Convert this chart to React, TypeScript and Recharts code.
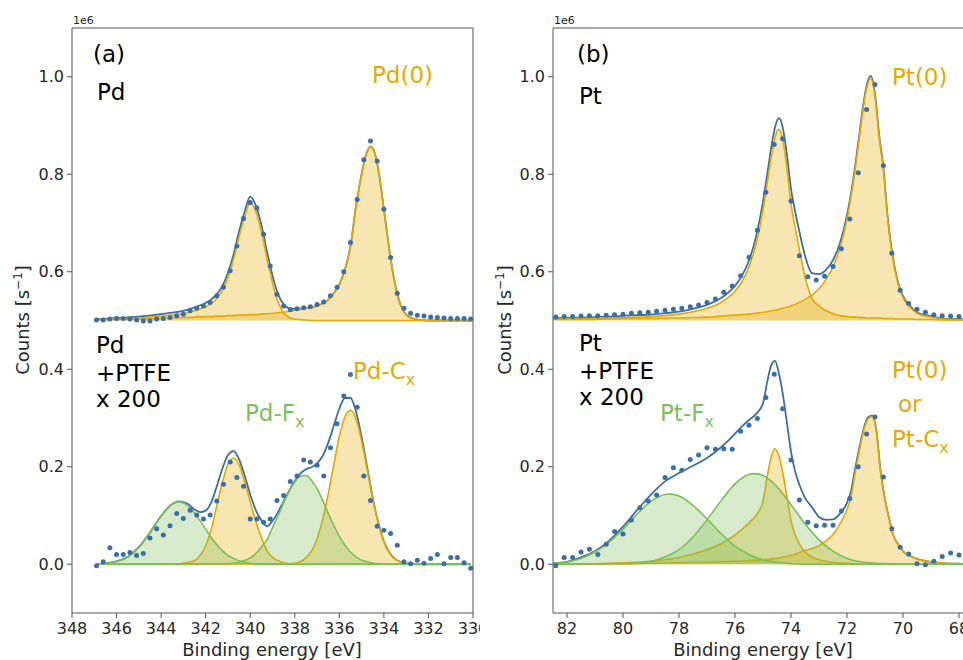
import React from "react";
import { ComposedChart, Area, Line, Scatter, XAxis, YAxis } from "recharts";

const FONT = "DejaVu Sans, Verdana, sans-serif";
const BLUE = "#3a6ea8";
const ORANGE = "#e4a900";
const GREEN = "#7cbd56";
const AXIS = "#555";
const TXT_ORANGE = "#e5aa00";
const TXT_GREEN = "#7dc05a";

// ---------- (a) Pd 3d ----------
const pdDotE = [
  346.9, 346.6, 346.3, 346.0, 345.7, 345.4, 345.1, 344.8, 344.5, 344.2,
  343.9, 343.6, 343.3, 343.0, 342.7, 342.4, 342.1, 341.8, 341.5, 341.2,
  340.9, 340.6, 340.3, 340.0, 339.7, 339.4, 339.1, 338.8, 338.5, 338.2,
  337.9, 337.6, 337.3, 337.0, 336.7, 336.4, 336.1, 335.8, 335.5, 335.2,
  334.9, 334.6, 334.3, 334.0, 333.7, 333.4, 333.1, 332.8, 332.5, 332.2,
  331.9, 331.6, 331.3, 331.0, 330.7, 330.4, 330.1,
];
const pdTopDots = [
  0.501, 0.501, 0.503, 0.504, 0.504, 0.503, 0.501, 0.499, 0.499, 0.503,
  0.504, 0.506, 0.510, 0.513, 0.520, 0.525, 0.530, 0.537, 0.551, 0.568,
  0.602, 0.653, 0.709, 0.742, 0.731, 0.677, 0.612, 0.554, 0.530, 0.522,
  0.524, 0.526, 0.528, 0.533, 0.538, 0.551, 0.568, 0.600, 0.660, 0.748,
  0.830, 0.868, 0.827, 0.728, 0.629, 0.556, 0.525, 0.515, 0.511, 0.509,
  0.507, 0.506, 0.505, 0.504, 0.504, 0.504, 0.503,
];
const pdBotDots = [
  -0.003, 0.005, 0.034, 0.020, 0.020, 0.024, 0.018, 0.022, 0.054, 0.073,
  0.060, 0.079, 0.104, 0.094, 0.111, 0.101, 0.093, 0.101, 0.130, 0.164,
  0.210, 0.178, 0.160, 0.093, 0.093, 0.086, 0.093, 0.131, 0.141, 0.170,
  0.181, 0.214, 0.210, 0.203, 0.181, 0.239, 0.288, 0.345, 0.389, 0.322,
  0.181, 0.131, 0.078, 0.070, 0.063, 0.039, 0.005, 0.001, 0.008, 0.002,
  0.012, 0.020, 0.001, 0.014, 0.014, 0.003, -0.008,
];

// top fit components (baseline 0.5)
const pdTopE = [
  346.9, 346, 345, 344, 343.5, 343, 342.5, 342, 341.75, 341.5,
  341.25, 341, 340.75, 340.5, 340.25, 340, 339.75, 339.5, 339.25, 339,
  338.75, 338.5, 338.25, 338, 337.5, 337, 336.75, 336.5, 336.25, 336,
  335.75, 335.5, 335.25, 335, 334.8, 334.6, 334.4, 334.2, 334, 333.75,
  333.5, 333.25, 333, 332.75, 332.5, 332, 331, 330.1,
];
const pdTopA = [
  0.502, 0.503, 0.505, 0.509, 0.511, 0.514, 0.52, 0.528, 0.535, 0.545,
  0.562, 0.588, 0.625, 0.672, 0.712, 0.742, 0.724, 0.683, 0.628, 0.577,
  0.538, 0.516, 0.506, 0.503, 0.501, 0.5, 0.5, 0.5, 0.5, 0.5,
  0.5, 0.5, 0.5, 0.5, 0.5, 0.5, 0.5, 0.5, 0.5, 0.5,
  0.5, 0.5, 0.5, 0.5, 0.5, 0.5, 0.5, 0.5,
];
const pdTopB = [
  0.501, 0.502, 0.503, 0.504, 0.505, 0.506, 0.507, 0.508, 0.508, 0.509,
  0.509, 0.51, 0.51, 0.511, 0.511, 0.512, 0.512, 0.513, 0.514, 0.515,
  0.516, 0.517, 0.519, 0.521, 0.525, 0.53, 0.535, 0.543, 0.556, 0.574,
  0.604, 0.652, 0.735, 0.8, 0.84, 0.857, 0.842, 0.795, 0.728, 0.643,
  0.575, 0.532, 0.512, 0.505, 0.502, 0.5, 0.5, 0.5,
];
const pdTopFit = [
  0.503, 0.505, 0.508, 0.513, 0.516, 0.52, 0.527, 0.536, 0.543, 0.554,
  0.571, 0.598, 0.635, 0.683, 0.723, 0.754, 0.736, 0.696, 0.642, 0.592,
  0.554, 0.533, 0.525, 0.524, 0.526, 0.53, 0.535, 0.543, 0.556, 0.574,
  0.604, 0.652, 0.735, 0.8, 0.84, 0.857, 0.842, 0.795, 0.728, 0.643,
  0.575, 0.532, 0.512, 0.505, 0.502, 0.5, 0.5, 0.5,
];

// bottom fit components (+PTFE x 200)
const pdG1E = [346.9, 346.5, 346, 345.5, 345, 344.5, 344, 343.6, 343.2, 342.8, 342.5, 342.25, 342, 341.75, 341.5, 341.25, 341, 340.75, 340.5, 340.25, 340, 339.5, 330.1];
const pdG1 = [0, 0.002, 0.006, 0.015, 0.035, 0.065, 0.099, 0.12, 0.128, 0.12, 0.105, 0.089, 0.072, 0.055, 0.04, 0.028, 0.018, 0.012, 0.007, 0.004, 0.002, 0, 0];
const pdO1E = [346.9, 343.6, 343.2, 342.8, 342.5, 342.25, 342, 341.75, 341.5, 341.25, 341, 340.75, 340.5, 340.25, 340, 339.75, 339.5, 339.25, 339, 338.75, 338.5, 338.25, 338, 330.1];
const pdO1 = [0, 0, 0.001, 0.004, 0.007, 0.018, 0.038, 0.072, 0.12, 0.168, 0.205, 0.218, 0.204, 0.17, 0.128, 0.088, 0.055, 0.028, 0.014, 0.007, 0.003, 0.001, 0, 0];
const pdG2E = [346.9, 341, 340.75, 340.5, 340.25, 340, 339.75, 339.5, 339.25, 339, 338.75, 338.5, 338.25, 338, 337.75, 337.5, 337.25, 337, 336.75, 336.5, 336.25, 336, 335.75, 335.5, 335.25, 335, 334.75, 334.5, 334.25, 334, 330.1];
const pdG2 = [0, 0.001, 0.002, 0.004, 0.008, 0.013, 0.022, 0.035, 0.05, 0.075, 0.1, 0.126, 0.15, 0.169, 0.181, 0.182, 0.172, 0.155, 0.131, 0.105, 0.08, 0.057, 0.039, 0.025, 0.015, 0.008, 0.005, 0.002, 0.001, 0, 0];
const pdO2E = [346.9, 338.25, 338, 337.75, 337.5, 337.25, 337, 336.75, 336.5, 336.25, 336, 335.75, 335.5, 335.25, 335, 334.75, 334.5, 334.25, 334, 333.75, 333.5, 333, 332.5, 330.1];
const pdO2 = [0, 0.001, 0.002, 0.005, 0.013, 0.027, 0.052, 0.091, 0.144, 0.204, 0.262, 0.302, 0.316, 0.298, 0.253, 0.194, 0.134, 0.084, 0.047, 0.024, 0.011, 0.002, 0, 0];
const pdBotFitE = [
  346.9, 346.5, 346, 345.5, 345, 344.5, 344, 343.6, 343.2, 342.8,
  342.5, 342.25, 342, 341.75, 341.5, 341.25, 341, 340.75, 340.5, 340.25,
  340, 339.75, 339.5, 339.25, 339, 338.75, 338.5, 338.25, 338, 337.75,
  337.5, 337.25, 337, 336.75, 336.5, 336.25, 336, 335.75, 335.5, 335.25,
  335, 334.75, 334.5, 334.25, 334, 333.75, 333.5, 333, 332.5, 330.1,
];
const pdBotFit = [
  0, 0.002, 0.006, 0.015, 0.035, 0.065, 0.099, 0.12, 0.129, 0.124,
  0.112, 0.107, 0.11, 0.127, 0.16, 0.196, 0.224, 0.232, 0.215, 0.182,
  0.143, 0.111, 0.09, 0.078, 0.089, 0.107, 0.129, 0.151, 0.171, 0.186,
  0.195, 0.199, 0.207, 0.222, 0.249, 0.284, 0.319, 0.341, 0.341, 0.313,
  0.261, 0.199, 0.136, 0.085, 0.047, 0.024, 0.011, 0.002, 0, 0,
];

// ---------- (b) Pt 4f ----------
const ptDotE = [
  82.4, 82.1, 81.8, 81.5, 81.2, 80.9, 80.6, 80.3, 80.0, 79.7,
  79.4, 79.1, 78.8, 78.5, 78.2, 77.9, 77.6, 77.3, 77.0, 76.7,
  76.4, 76.1, 75.8, 75.5, 75.2, 74.9, 74.6, 74.3, 74.0, 73.7,
  73.4, 73.1, 72.8, 72.5, 72.2, 71.9, 71.6, 71.3, 71.0, 70.7,
  70.4, 70.1, 69.8, 69.5, 69.2, 68.9, 68.6, 68.3, 68.0,
];
const ptTopDots = [
  0.507, 0.508, 0.508, 0.509, 0.51, 0.51, 0.511, 0.512, 0.513, 0.515,
  0.516, 0.517, 0.519, 0.521, 0.523, 0.525, 0.528, 0.532, 0.537, 0.544,
  0.558, 0.571, 0.592, 0.63, 0.685, 0.763, 0.861, 0.873, 0.745, 0.633,
  0.59, 0.583, 0.591, 0.611, 0.647, 0.708, 0.803, 0.933, 0.984, 0.818,
  0.638, 0.562, 0.535, 0.523, 0.517, 0.512, 0.51, 0.509, 0.508,
];
const ptBotDots = [
  -0.003, 0.014, 0.014, 0.025, 0.031, 0.02, 0.041, 0.067, 0.062, 0.091,
  0.116, 0.13, 0.142, 0.178, 0.198, 0.193, 0.215, 0.224, 0.239, 0.236,
  0.237, 0.236, 0.273, 0.285, 0.299, 0.342, 0.39, 0.319, 0.214, 0.132,
  0.086, 0.079, 0.08, 0.08, 0.109, 0.135, 0.2, 0.267, 0.302, 0.179,
  0.073, 0.035, 0.021, 0.001, -0.001, 0.006, 0.016, 0.023, 0.019,
];

const ptTopE = [
  82.5, 81.5, 80.5, 79.5, 79, 78.5, 78, 77.5, 77, 76.5,
  76.25, 76, 75.75, 75.5, 75.25, 75, 74.85, 74.7, 74.55, 74.43,
  74.3, 74.15, 74, 73.85, 73.7, 73.5, 73.25, 73, 72.75, 72.5,
  72.25, 72, 71.85, 71.7, 71.55, 71.4, 71.28, 71.15, 71.0, 70.85,
  70.7, 70.55, 70.4, 70.2, 70, 69.75, 69.5, 69, 68.5, 68, 67.5,
];
const ptTopA = [
  0.503, 0.504, 0.505, 0.507, 0.508, 0.51, 0.513, 0.518, 0.525, 0.537,
  0.547, 0.56, 0.58, 0.61, 0.657, 0.727, 0.781, 0.837, 0.88, 0.892,
  0.872, 0.815, 0.74, 0.69, 0.645, 0.59, 0.545, 0.53, 0.52, 0.514,
  0.51, 0.508, 0.507, 0.507, 0.506, 0.506, 0.505, 0.505, 0.505, 0.505,
  0.504, 0.504, 0.504, 0.503, 0.503, 0.503, 0.502, 0.502, 0.501, 0.501, 0.501,
];
const ptTopB = [
  0.502, 0.502, 0.503, 0.504, 0.504, 0.505, 0.505, 0.506, 0.507, 0.509,
  0.51, 0.511, 0.512, 0.513, 0.515, 0.517, 0.518, 0.52, 0.521, 0.523,
  0.525, 0.527, 0.53, 0.533, 0.537, 0.543, 0.552, 0.565, 0.584, 0.61,
  0.649, 0.708, 0.756, 0.814, 0.88, 0.944, 0.981, 0.997, 0.96, 0.875,
  0.81, 0.71, 0.64, 0.58, 0.547, 0.527, 0.515, 0.507, 0.503, 0.502, 0.501,
];
const ptTopFit = [
  0.505, 0.506, 0.508, 0.511, 0.512, 0.515, 0.518, 0.524, 0.532, 0.546,
  0.557, 0.571, 0.592, 0.623, 0.672, 0.744, 0.799, 0.857, 0.901, 0.915,
  0.897, 0.842, 0.77, 0.723, 0.682, 0.633, 0.597, 0.595, 0.604, 0.624,
  0.659, 0.716, 0.763, 0.821, 0.886, 0.95, 0.986, 1.002, 0.965, 0.88,
  0.814, 0.714, 0.644, 0.583, 0.55, 0.53, 0.517, 0.509, 0.504, 0.503, 0.502,
];

const ptG1E = [82.5, 82, 81.5, 81, 80.5, 80, 79.5, 79, 78.5, 78.33, 78, 77.5, 77, 76.5, 76, 75.5, 75, 74.5, 74, 73.5, 67.5];
const ptG1 = [0.002, 0.005, 0.012, 0.025, 0.045, 0.072, 0.103, 0.129, 0.143, 0.144, 0.14, 0.121, 0.093, 0.063, 0.037, 0.02, 0.009, 0.004, 0.001, 0, 0];
const ptG2E = [82.5, 80, 79.5, 79, 78.5, 78, 77.5, 77, 76.5, 76, 75.5, 75.3, 75, 74.5, 74, 73.5, 73, 72.5, 72, 71.5, 71, 70.5, 70, 67.5];
const ptG2 = [0, 0.001, 0.002, 0.006, 0.015, 0.03, 0.056, 0.091, 0.13, 0.165, 0.184, 0.186, 0.182, 0.159, 0.122, 0.083, 0.05, 0.027, 0.012, 0.005, 0.002, 0.001, 0, 0];
const ptO1E = [82.5, 82, 81, 80, 79, 78, 77.5, 77, 76.5, 76, 75.5, 75.25, 75, 74.85, 74.7, 74.57, 74.45, 74.3, 74.15, 74, 73.85, 73.7, 73.5, 73.25, 73, 72.5, 72, 71, 67.5];
const ptO1 = [0, 0, 0.001, 0.003, 0.006, 0.014, 0.021, 0.03, 0.042, 0.06, 0.085, 0.1, 0.13, 0.18, 0.222, 0.237, 0.225, 0.19, 0.14, 0.09, 0.06, 0.042, 0.025, 0.015, 0.009, 0.004, 0.002, 0, 0];
const ptO2E = [82.5, 81, 80, 79, 78, 77, 76, 75, 74.5, 74, 73.5, 73, 72.75, 72.5, 72.25, 72, 71.85, 71.7, 71.55, 71.4, 71.25, 71.1, 70.95, 70.8, 70.65, 70.5, 70.35, 70.2, 70, 69.75, 69.5, 69, 68.5, 68, 67.5];
const ptO2 = [0, 0.001, 0.001, 0.002, 0.003, 0.004, 0.006, 0.009, 0.012, 0.018, 0.028, 0.038, 0.048, 0.061, 0.083, 0.112, 0.14, 0.19, 0.235, 0.275, 0.298, 0.303, 0.272, 0.19, 0.135, 0.095, 0.06, 0.043, 0.027, 0.017, 0.011, 0.005, 0.002, 0.001, 0];
const ptBotFitE = [
  82.5, 82, 81.5, 81, 80.5, 80, 79.5, 79, 78.5, 78,
  77.5, 77, 76.5, 76.25, 76, 75.75, 75.5, 75.25, 75, 74.85,
  74.7, 74.57, 74.45, 74.3, 74.15, 74, 73.85, 73.7, 73.5, 73.25,
  73, 72.75, 72.5, 72.25, 72, 71.85, 71.7, 71.55, 71.4, 71.25,
  71.1, 70.95, 70.8, 70.65, 70.5, 70.35, 70.2, 70, 69.75, 69.5,
  69, 68.5, 68, 67.5,
];
const ptBotFit = [
  0.002, 0.005, 0.014, 0.027, 0.048, 0.077, 0.111, 0.143, 0.17, 0.187,
  0.202, 0.218, 0.24, 0.253, 0.268, 0.283, 0.296, 0.308, 0.33, 0.374,
  0.409, 0.417, 0.396, 0.352, 0.292, 0.231, 0.19, 0.163, 0.136, 0.117,
  0.097, 0.091, 0.092, 0.104, 0.126, 0.152, 0.199, 0.241, 0.279, 0.301,
  0.305, 0.274, 0.191, 0.135, 0.095, 0.06, 0.043, 0.027, 0.017, 0.011,
  0.005, 0.002, 0.001, 0,
];

const pdTicks = [330, 332, 334, 336, 338, 340, 342, 344, 346, 348];
const ptTicks = [68, 70, 72, 74, 76, 78, 80, 82];
const yTicks = [0, 0.2, 0.4, 0.6, 0.8, 1.0];

const zip = (xs: number[], ys: number[]) => xs.map((x, i) => ({ x, y: ys[i] }));

const TICK = { fontSize: 16, fill: "#262626", fontFamily: FONT };

type Peak = { e: number[]; v: number[]; color: string; base: number };

interface PanelProps {
  left: number;
  width: number;
  right: number;
  domain: [number, number];
  ticks: number[];
  dotE: number[];
  topDots: number[];
  botDots: number[];
  topFitE: number[];
  topFit: number[];
  botFitE: number[];
  botFit: number[];
  peaks: Peak[];
}

const dotShape = (props: any) => (
  <circle cx={props.cx} cy={props.cy} r={2.5} fill={BLUE} />
);

function Panel(p: PanelProps) {
  return (
    <div style={{ position: "absolute", left: p.left, top: 0 }}>
      <ComposedChart
        width={p.width}
        height={660}
        margin={{ top: 28, right: p.right, bottom: 0, left: 0 }}
      >
        <XAxis
          type="number"
          dataKey="x"
          domain={p.domain}
          reversed
          allowDataOverflow
          ticks={p.ticks}
          interval={0}
          height={47}
          tickSize={5}
          tickMargin={5}
          tick={TICK}
          stroke={AXIS}
        />
        <YAxis
          type="number"
          domain={[-0.1, 1.1]}
          allowDataOverflow
          ticks={yTicks}
          interval={0}
          width={72}
          tickSize={5}
          tickMargin={3}
          tick={TICK}
          stroke={AXIS}
          tickFormatter={(v: number) => v.toFixed(1)}
        />
        <Line data={zip(p.topFitE, p.topFit)} dataKey="y" type="monotone" stroke={BLUE}
          strokeWidth={1.8} dot={false} activeDot={false} isAnimationActive={false} zIndex={50} />
        <Line data={zip(p.botFitE, p.botFit)} dataKey="y" type="monotone" stroke={BLUE}
          strokeWidth={1.8} dot={false} activeDot={false} isAnimationActive={false} zIndex={50} />
        {p.peaks.map((pk, i) => (
          <Area
            key={i}
            data={zip(pk.e, pk.v)}
            dataKey="y"
            type="monotone"
            baseValue={pk.base}
            stroke={pk.color}
            strokeWidth={1.6}
            fill={pk.color}
            fillOpacity={0.3}
            dot={false}
            activeDot={false}
            isAnimationActive={false}
          />
        ))}
        <Scatter data={zip(p.dotE, p.topDots)} dataKey="y" shape={dotShape} isAnimationActive={false} />
        <Scatter data={zip(p.dotE, p.botDots)} dataKey="y" shape={dotShape} isAnimationActive={false} />
      </ComposedChart>
    </div>
  );
}

export default function App() {
  const big = { fontFamily: FONT, fontSize: 23 };
  return (
    <div style={{ position: "absolute", left: 0, top: 0, width: 963, height: 660, overflow: "hidden", background: "#fff" }}>
      <Panel
        left={0}
        width={480}
        right={7}
        domain={[330, 348]}
        ticks={pdTicks}
        dotE={pdDotE}
        topDots={pdTopDots}
        botDots={pdBotDots}
        topFitE={pdTopE}
        topFit={pdTopFit}
        botFitE={pdBotFitE}
        botFit={pdBotFit}
        peaks={[
          { e: pdTopE, v: pdTopA, color: ORANGE, base: 0.5 },
          { e: pdTopE, v: pdTopB, color: ORANGE, base: 0.5 },
          { e: pdO1E, v: pdO1, color: ORANGE, base: 0 },
          { e: pdO2E, v: pdO2, color: ORANGE, base: 0 },
          { e: pdG1E, v: pdG1, color: GREEN, base: 0 },
          { e: pdG2E, v: pdG2, color: GREEN, base: 0 },
        ]}
      />
      <Panel
        left={481}
        width={492}
        right={0}
        domain={[67.5, 82.5]}
        ticks={ptTicks}
        dotE={ptDotE}
        topDots={ptTopDots}
        botDots={ptBotDots}
        topFitE={ptTopE}
        topFit={ptTopFit}
        botFitE={ptBotFitE}
        botFit={ptBotFit}
        peaks={[
          { e: ptTopE, v: ptTopA, color: ORANGE, base: 0.5 },
          { e: ptTopE, v: ptTopB, color: ORANGE, base: 0.5 },
          { e: ptO1E, v: ptO1, color: ORANGE, base: 0 },
          { e: ptO2E, v: ptO2, color: ORANGE, base: 0 },
          { e: ptG1E, v: ptG1, color: GREEN, base: 0 },
          { e: ptG2E, v: ptG2, color: GREEN, base: 0 },
        ]}
      />
      <svg width={963} height={660} style={{ position: "absolute", left: 0, top: 0, pointerEvents: "none" }}>
        {/* top / right spines */}
        <line x1={72} y1={28} x2={473} y2={28} stroke={AXIS} />
        <line x1={473} y1={28} x2={473} y2={613} stroke={AXIS} />
        <line x1={553} y1={28} x2={973} y2={28} stroke={AXIS} />

        <text x={73} y={24} fontFamily={FONT} fontSize={11} fill="#262626">1e6</text>
        <text x={554} y={24} fontFamily={FONT} fontSize={11} fill="#262626">1e6</text>

        {/* panel (a) */}
        <text x={93} y={62} {...big}>(a)</text>
        <text x={97} y={100} {...big}>Pd</text>
        <text x={372} y={83} {...big} fill={TXT_ORANGE}>Pd(0)</text>
        <text x={96} y={353} {...big}>Pd</text>
        <text x={96} y={381} {...big}>+PTFE</text>
        <text x={96} y={407} {...big}>x 200</text>
        <text x={353} y={379} {...big} fill={TXT_ORANGE}>Pd-C<tspan fontSize={16} dy={6}>x</tspan></text>
        <text x={245} y={421} {...big} fill={TXT_GREEN}>Pd-F<tspan fontSize={16} dy={6}>x</tspan></text>

        {/* panel (b) */}
        <text x={577} y={62} {...big}>(b)</text>
        <text x={579} y={104} {...big}>Pt</text>
        <text x={892} y={85} {...big} fill={TXT_ORANGE}>Pt(0)</text>
        <text x={579} y={351} {...big}>Pt</text>
        <text x={579} y={379} {...big}>+PTFE</text>
        <text x={579} y={405} {...big}>x 200</text>
        <text x={660} y={421} {...big} fill={TXT_GREEN}>Pt-F<tspan fontSize={16} dy={6}>x</tspan></text>
        <text x={892} y={378} {...big} fill={TXT_ORANGE}>Pt(0)</text>
        <text x={898} y={412} {...big} fill={TXT_ORANGE}>or</text>
        <text x={892} y={447} {...big} fill={TXT_ORANGE}>Pt-C<tspan fontSize={16} dy={6}>x</tspan></text>

        {/* axis labels */}
        <text transform="translate(29,320) rotate(-90)" textAnchor="middle" fontFamily={FONT} fontSize={18} fill="#262626">
          Counts [s<tspan fontSize={12} dy={-7}>−1</tspan><tspan dy={7}>]</tspan>
        </text>
        <text transform="translate(511,320) rotate(-90)" textAnchor="middle" fontFamily={FONT} fontSize={18} fill="#262626">
          Counts [s<tspan fontSize={12} dy={-7}>−1</tspan><tspan dy={7}>]</tspan>
        </text>
        <text x={272} y={656} textAnchor="middle" fontFamily={FONT} fontSize={18} fill="#262626">Binding energy [eV]</text>
        <text x={763} y={656} textAnchor="middle" fontFamily={FONT} fontSize={18} fill="#262626">Binding energy [eV]</text>
      </svg>
    </div>
  );
}
